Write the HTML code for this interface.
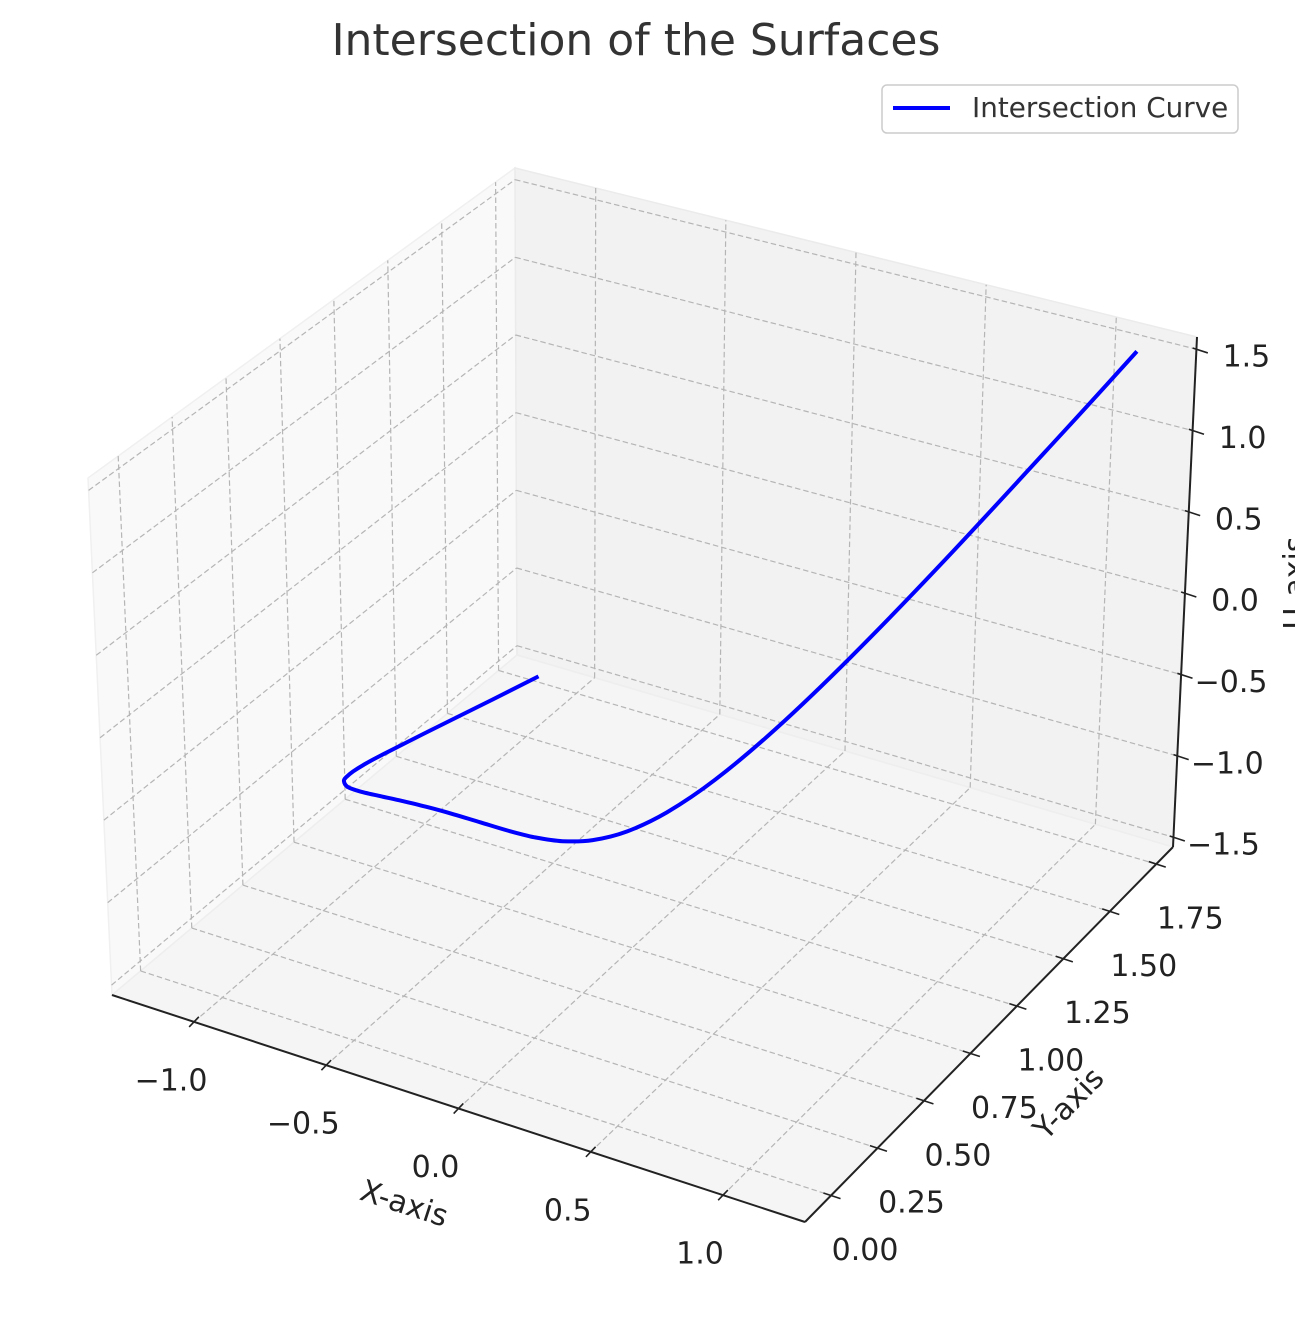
<!DOCTYPE html>
<html><head><meta charset="utf-8">
<style>
html,body{margin:0;padding:0;background:#fff;}
svg{display:block;font-family:"DejaVu Sans","Liberation Sans",sans-serif;}
</style></head>
<body>
<svg id="chart" width="1295" height="1322" viewBox="0 0 1295 1322" xmlns="http://www.w3.org/2000/svg">
<text x="636" y="55" text-anchor="middle" font-size="44" fill="#333">Intersection of the Surfaces</text>
<g id="panes"></g><g id="grid"></g><g id="axes"></g><g id="labels"></g><g id="series"></g>
<g>
<rect x="882" y="85" width="356" height="48" rx="5" fill="#fff" stroke="#cccccc" stroke-width="1.5"/>
<line x1="893" y1="108" x2="950" y2="108" stroke="#0000ff" stroke-width="4"/>
<text x="972" y="117" font-size="27.8" fill="#333">Intersection Curve</text>
</g>
<text x="404" y="1204" font-size="30" fill="#222" text-anchor="middle" dominant-baseline="central" transform="rotate(18 404 1204)">X-axis</text>
<text x="1069" y="1104" font-size="30" fill="#222" text-anchor="middle" dominant-baseline="central" transform="rotate(-46 1069 1104)">Y-axis</text>
<text x="1305" y="583" font-size="30" fill="#222" text-anchor="middle" transform="rotate(-90 1305 583)">U-axis</text>
</svg>
<script>
const xData=[-1.15,-1.1,-1.0,-0.9,-0.85,-0.8,-0.75,-0.7,-0.6,-0.5,-0.4,-0.3,-0.2,-0.1,0,0.1,0.2,0.3,0.4,0.5,0.6,0.7,0.8,0.9,1.0,1.1,1.15];
const yData=[1.749,1.464,1.0,0.656,0.522,0.410,0.316,0.240,0.130,0.0625,0.0256,0.0081,0.0016,0.0001,0,0.0001,0.0016,0.0081,0.0256,0.0625,0.130,0.240,0.410,0.656,1.0,1.464,1.749];
const zData=[-1.521,-1.331,-1.0,-0.729,-0.614,-0.512,-0.422,-0.343,-0.216,-0.125,-0.064,-0.027,-0.008,-0.001,0,0.001,0.008,0.027,0.064,0.125,0.216,0.343,0.512,0.729,1.0,1.331,1.521];
const xTicks=[-1.0,-0.5,0.0,0.5,1.0];
const xTickLabels=["\u22121.0","\u22120.5","0.0","0.5","1.0"];
const yTicks=[0,0.25,0.5,0.75,1.0,1.25,1.5,1.75];
const yTickLabels=["0.00","0.25","0.50","0.75","1.00","1.25","1.50","1.75"];
const zTicks=[-1.5,-1.0,-0.5,0.0,0.5,1.0,1.5];
const zTickLabels=["\u22121.5","\u22121.0","\u22120.5","0.0","0.5","1.0","1.5"];
const XMIN=-1.31,XMAX=1.31,YMIN=-0.14,YMAX=1.84,ZMIN=-1.56,ZMAX=1.575;

const NS="http://www.w3.org/2000/svg";
const CA=[112,995],CB=[805,1222],CC=[1173,847],CD=[517,655];
const HA=[-24,-517],HB=[0,-535],HC=[24,-510],HD=[-2,-487];
function bil(a,b,c,d,u,v,i){return a[i]*(1-u)*(1-v)+b[i]*u*(1-v)+c[i]*u*v+d[i]*(1-u)*v;}
function proj(x,y,z){
  const u=(x-XMIN)/(XMAX-XMIN),v=(y-YMIN)/(YMAX-YMIN),w=(z-ZMIN)/(ZMAX-ZMIN);
  return [bil(CA,CB,CC,CD,u,v,0)+w*bil(HA,HB,HC,HD,u,v,0), bil(CA,CB,CC,CD,u,v,1)+w*bil(HA,HB,HC,HD,u,v,1)];
}
function mk(tag,attrs,parent){const e=document.createElementNS(NS,tag);for(const k in attrs)e.setAttribute(k,attrs[k]);parent.appendChild(e);return e;}
const panes=document.getElementById('panes'),grid=document.getElementById('grid'),axes=document.getElementById('axes'),labels=document.getElementById('labels'),series=document.getElementById('series');
function poly(pts){return pts.map(p=>p[0].toFixed(1)+','+p[1].toFixed(1)).join(' ');}

let e;
e=mk('polygon',{points:poly([proj(XMIN,YMIN,ZMIN),proj(XMIN,YMAX,ZMIN),proj(XMIN,YMAX,ZMAX),proj(XMIN,YMIN,ZMAX)]),fill:'#f9f9f9',stroke:'#f0f0f0','stroke-width':1.5},panes);


e=mk('polygon',{points:poly([proj(XMIN,YMAX,ZMIN),proj(XMAX,YMAX,ZMIN),proj(XMAX,YMAX,ZMAX),proj(XMIN,YMAX,ZMAX)]),fill:'#f2f2f2',stroke:'#ebebeb','stroke-width':1.5},panes);


e=mk('polygon',{points:poly([proj(XMIN,YMIN,ZMIN),proj(XMAX,YMIN,ZMIN),proj(XMAX,YMAX,ZMIN),proj(XMIN,YMAX,ZMIN)]),fill:'#f5f5f5',stroke:'#eeeeee','stroke-width':1.5},panes);



function gl(p,q,name){
  const l=mk('line',{x1:p[0],y1:p[1],x2:q[0],y2:q[1],stroke:'#b5b5b5','stroke-width':1.2,'stroke-dasharray':'5.5,3'},grid);
  
  
}
xTicks.forEach(x=>{gl(proj(x,YMIN,ZMIN),proj(x,YMAX,ZMIN),'grid-line-x');gl(proj(x,YMAX,ZMIN),proj(x,YMAX,ZMAX),'grid-line-x');});
yTicks.forEach(y=>{gl(proj(XMIN,y,ZMIN),proj(XMAX,y,ZMIN),'grid-line-y');gl(proj(XMIN,y,ZMIN),proj(XMIN,y,ZMAX),'grid-line-y');});
zTicks.forEach(z=>{gl(proj(XMIN,YMIN,z),proj(XMIN,YMAX,z),'grid-line-z');gl(proj(XMIN,YMAX,z),proj(XMAX,YMAX,z),'grid-line-z');});

function al(p,q,name){
  const l=mk('line',{x1:p[0],y1:p[1],x2:q[0],y2:q[1],stroke:'#222','stroke-width':2},axes);
  
  
}
al(proj(XMIN,YMIN,ZMIN),proj(XMAX,YMIN,ZMIN),'x-axis-line');
al(proj(XMAX,YMIN,ZMIN),proj(XMAX,YMAX,ZMIN),'y-axis-line');
al(proj(XMAX,YMAX,ZMIN),proj(XMAX,YMAX,ZMAX),'z-axis-line');
const exu=[0.950,0.311],eyu=[0.692,-0.722];
function tk(p,d,a,b,name){
  const l=mk('line',{x1:p[0]+d[0]*a,y1:p[1]+d[1]*a,x2:p[0]+d[0]*b,y2:p[1]+d[1]*b,stroke:'#222','stroke-width':1.6},axes);
  
  
}
function lb(x,y,s,name){
  const t=mk('text',{x:x,y:y,'text-anchor':'middle','dominant-baseline':'central','font-size':30,fill:'#222'},labels);
  t.textContent=s;
  
  
}
xTicks.forEach((x,i)=>{const p=proj(x,YMIN,ZMIN);tk(p,eyu,-7,7,'x-tick');lb(p[0]-23,p[1]+59,xTickLabels[i],'x-tick-label');});
yTicks.forEach((y,i)=>{const p=proj(XMAX,y,ZMIN);tk(p,exu,-8,10,'y-tick');lb(p[0]+34,p[1]+55,yTickLabels[i],'y-tick-label');});
zTicks.forEach((z,i)=>{const p=proj(XMAX,YMAX,z);tk(p,exu,-4,12,'z-tick');lb(p[0]+50,p[1]+8,zTickLabels[i],'z-tick-label');});

const pts=xData.map((x,i)=>proj(x,yData[i],zData[i]));
let d='M'+pts[0][0].toFixed(1)+','+pts[0][1].toFixed(1);
for(let i=0;i<pts.length-1;i++){
  const p0=pts[Math.max(0,i-1)],p1=pts[i],p2=pts[i+1],p3=pts[Math.min(pts.length-1,i+2)];
  const c1=[p1[0]+(p2[0]-p0[0])/6,p1[1]+(p2[1]-p0[1])/6],c2=[p2[0]-(p3[0]-p1[0])/6,p2[1]-(p3[1]-p1[1])/6];
  d+=' C'+c1[0].toFixed(1)+','+c1[1].toFixed(1)+' '+c2[0].toFixed(1)+','+c2[1].toFixed(1)+' '+p2[0].toFixed(1)+','+p2[1].toFixed(1);
}
const curve=mk('path',{d:d,fill:'none',stroke:'#0000ff','stroke-width':4,'stroke-linejoin':'round'},series);


</script>
</body></html>
